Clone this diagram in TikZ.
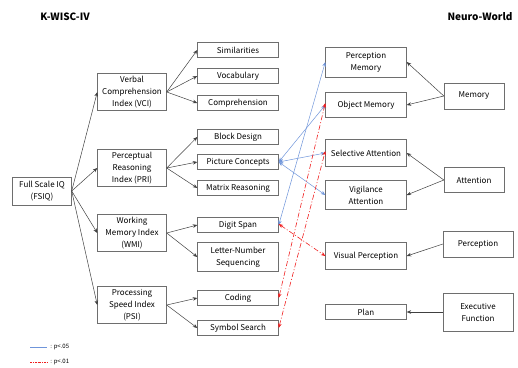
\documentclass[tikz,border=0pt]{standalone}
\usepackage{fontspec}
\setmainfont{Noto Sans CJK KR}
\usepackage{tikz}
\usetikzlibrary{arrows.meta,positioning}
\usepackage{xcolor}
\definecolor{Frame}{HTML}{6E6E6E}
\definecolor{Link}{HTML}{404040}
\definecolor{Blue}{HTML}{6F95DA}
\definecolor{Red}{HTML}{F01E1E}
\tikzset{
  box/.style={draw=Frame, fill=white, align=center, inner sep=1pt, font=\fontsize{8}{12}\selectfont},
  leaf/.style={box, minimum width=81pt, minimum height=15pt},
  index/.style={box, minimum width=69pt, minimum height=37pt},
  brain/.style={box, minimum width=81pt, minimum height=27pt},
  areabox/.style={box, minimum width=70pt, minimum height=26pt},
  title/.style={font=\fontsize{10}{12}\selectfont\bfseries},
  arrow/.style={-{Stealth[length=4.5pt,width=3.6pt]}, draw=Link, line width=0.5pt},
  sig/.style={{Stealth[length=4.5pt,width=3.6pt]}-{Stealth[length=4.5pt,width=3.6pt]}, draw=Blue, line width=0.5pt},
  ssig/.style={{Stealth[length=4.5pt,width=3.6pt]}-{Stealth[length=4.5pt,width=3.6pt]}, draw=Red, line width=0.6pt, dash pattern=on 5pt off 2pt on 1pt off 2pt},
  key/.style={font=\fontsize{6}{7}\selectfont, anchor=west, inner sep=1pt}
}

\begin{document}
\begin{tikzpicture}[x=1pt, y=-1pt]
\useasboundingbox (0,0) rectangle (518,367);
\node[title] (kwisc) at (65,17) {K-WISC-IV};
\node[title] (neuro) at (480,17) {Neuro-World};

% K-WISC-IV
\node[box, minimum width=59pt, minimum height=28pt] (fsiq) at (42,191) {Full Scale IQ\\(FSIQ)};
\node[index] (vci) at (132,92) {Verbal\\Comprehension\\Index (VCI)};
\node[index] (pri) at (132,168) {Perceptual\\Reasoning\\Index (PRI)};
\node[index] (wmi) at (132,233) {Working\\Memory Index\\(WMI)};
\node[index] (psi) at (132,305) {Processing\\Speed Index\\(PSI)};

\node[leaf] (sim) at (238,50) {Similarities};
\node[leaf] (voc) at (238,76) {Vocabulary};
\node[leaf] (com) at (238,103) {Comprehension};
\node[leaf] (bd) at (238,137) {Block Design};
\node[leaf] (pc) at (238,162) {Picture Concepts};
\node[leaf] (mr) at (238,188) {Matrix Reasoning};
\node[leaf] (ds) at (238,225) {Digit Span};
\node[leaf, minimum height=29pt] (lns) at (238,257) {Letter-Number\\Sequencing};
\node[leaf] (cd) at (238,298) {Coding};
\node[leaf] (ss) at (238,328) {Symbol Search};

\foreach \i in {vci,pri,wmi,psi} \draw[arrow] (fsiq.east) -- (\i.west);
\foreach \i in {sim,voc,com} \draw[arrow] (vci.east) -- (\i.west);
\foreach \i in {bd,pc,mr} \draw[arrow] (pri.east) -- (\i.west);
\foreach \i in {ds,lns} \draw[arrow] (wmi.east) -- (\i.west);
\foreach \i in {cd,ss} \draw[arrow] (psi.east) -- (\i.west);

% Neuro-World
\node[brain, minimum height=30pt] (pm) at (366,62) {Perception\\Memory};
\node[brain, minimum height=25pt] (om) at (366,105) {Object Memory};
\node[brain] (sa) at (366,153) {Selective Attention};
\node[brain, minimum height=29pt] (va) at (366,195) {Vigilance\\Attention};
\node[brain] (vp) at (366,256) {Visual Perception};
\node[brain, minimum height=15pt] (plan) at (366,312) {Plan};

\node[areabox, minimum width=60pt] (mem) at (474,96) {Memory};
\node[areabox, minimum width=60pt, minimum height=25pt] (att) at (474,180) {Attention};
\node[areabox] (per) at (478,244) {Perception};
\node[areabox, minimum height=38pt] (exe) at (478,312) {Executive\\Function};

\draw[arrow] (mem.west) -- (pm.east);
\draw[arrow] (mem.west) -- (om.east);
\draw[arrow] (att.west) -- (sa.east);
\draw[arrow] (att.west) -- (va.east);
\draw[arrow] (per.west) -- (vp.east);
\draw[arrow] (exe.west) -- (plan.east);

% correlations
\draw[sig] (ds.east) -- (pm.west);
\draw[sig] (pc.east) -- (om.west);
\draw[sig] (pc.east) -- (sa.west);
\draw[sig] (pc.east) -- (va.west);
\draw[ssig] ([yshift=1pt]ds.east) -- (vp.west);
\draw[ssig] (cd.east) -- ([yshift=2pt]om.west);
\draw[ssig] (ss.east) -- ([yshift=2pt]sa.west);

% legend
\coordinate (k1) at (30,347);
\coordinate (k2) at (30,362);
\draw[draw=Blue, line width=0.6pt] (k1) -- ++(17,0) node[key, xshift=2pt] (p05) {: p<.05};
\draw[draw=Red, line width=0.6pt, dash pattern=on 2pt off 1pt on 0.5pt off 1pt] (k2) -- ++(17,0) node[key, xshift=2pt] (p01) {: p<.01};
\end{tikzpicture}
\end{document}
